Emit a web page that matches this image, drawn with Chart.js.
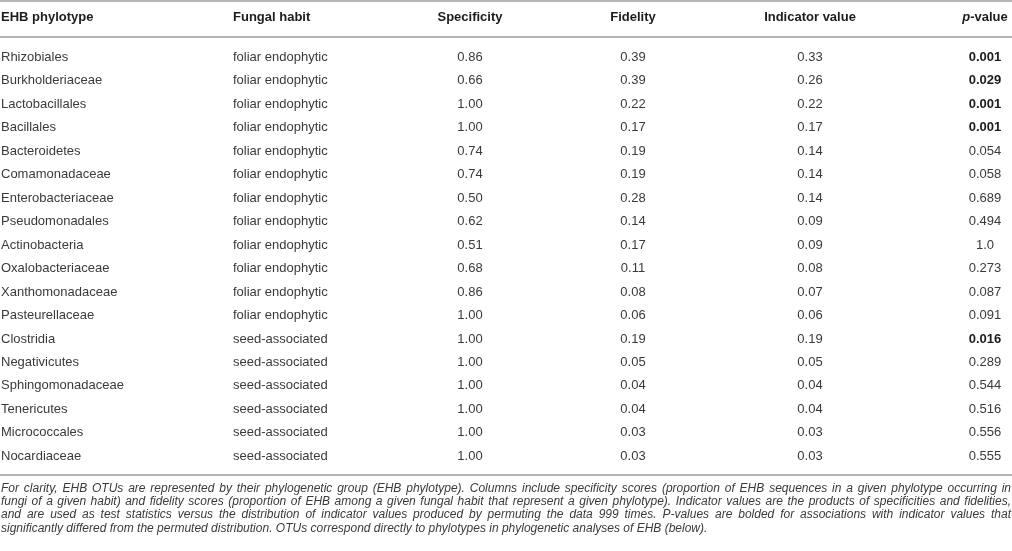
<!DOCTYPE html>
<html lang="en">

<head>
  <meta charset="UTF-8">
  <title>EHB indicator table</title>
  <script src="https://cdn.jsdelivr.net/npm/chart.js"></script>
  <style>
    body { margin: 0; background: #fff; overflow: hidden; }
    .wrap { position: relative; width: 1012px; height: 551px; }
    .nota {
      position: absolute; left: 1px; top: 482px; width: 1010px;
      font-family: "Liberation Sans", Arial, sans-serif; font-style: italic;
      font-size: 12px; line-height: 13.2px; color: #3a3a3a;
    }
    .nota div { white-space: nowrap; }
    .nota .just { text-align: justify; text-align-last: justify; white-space: normal; }
  </style>
</head>

<body>
  <div class="wrap">
    <canvas id="tabela" width="1012" height="551"></canvas>
    <div class="nota">
      <div class="just">For clarity, EHB OTUs are represented by their phylogenetic group (EHB phylotype). Columns include specificity scores (proportion of EHB sequences in a given phylotype occurring in</div>
      <div class="just">fungi of a given habit) and fidelity scores (proportion of EHB among a given fungal habit that represent a given phylotype). Indicator values are the products of specificities and fidelities,</div>
      <div class="just">and are used as test statistics versus the distribution of indicator values produced by permuting the data 999 times. P-values are bolded for associations with indicator values that</div>
      <div>significantly differed from the permuted distribution. OTUs correspond directly to phylotypes in phylogenetic analyses of EHB (below).</div>
    </div>
  </div>

<script>
  // dados da tabela
  const colunas = ['EHB phylotype', 'Fungal habit', 'Specificity', 'Fidelity', 'Indicator value', 'p-value'];
  const filotipos = ['Rhizobiales', 'Burkholderiaceae', 'Lactobacillales', 'Bacillales', 'Bacteroidetes',
    'Comamonadaceae', 'Enterobacteriaceae', 'Pseudomonadales', 'Actinobacteria', 'Oxalobacteriaceae',
    'Xanthomonadaceae', 'Pasteurellaceae', 'Clostridia', 'Negativicutes', 'Sphingomonadaceae',
    'Tenericutes', 'Micrococcales', 'Nocardiaceae'];
  const habitos = ['foliar endophytic', 'foliar endophytic', 'foliar endophytic', 'foliar endophytic',
    'foliar endophytic', 'foliar endophytic', 'foliar endophytic', 'foliar endophytic', 'foliar endophytic',
    'foliar endophytic', 'foliar endophytic', 'foliar endophytic', 'seed-associated', 'seed-associated',
    'seed-associated', 'seed-associated', 'seed-associated', 'seed-associated'];
  const especificidade = [0.86, 0.66, 1.00, 1.00, 0.74, 0.74, 0.50, 0.62, 0.51, 0.68, 0.86, 1.00,
    1.00, 1.00, 1.00, 1.00, 1.00, 1.00];
  const fidelidade = [0.39, 0.39, 0.22, 0.17, 0.19, 0.19, 0.28, 0.14, 0.17, 0.11, 0.08, 0.06,
    0.19, 0.05, 0.04, 0.04, 0.03, 0.03];
  const indicador = [0.33, 0.26, 0.22, 0.17, 0.14, 0.14, 0.14, 0.09, 0.09, 0.08, 0.07, 0.06,
    0.19, 0.05, 0.04, 0.04, 0.03, 0.03];
  const pValores = [0.001, 0.029, 0.001, 0.001, 0.054, 0.058, 0.689, 0.494, 1.0, 0.273, 0.087, 0.091,
    0.016, 0.289, 0.544, 0.516, 0.556, 0.555];

  // layout (posicao das colunas em px, linhas em unidades de linha)
  const colX = [1, 233, 470, 633, 810, 985];
  const colAlign = ['left', 'left', 'center', 'center', 'center', 'center'];
  const linhaCabecalho = -1.68;
  const linhasRegua = [-2.40, -0.85, 17.80];

  const fonte = '"Liberation Sans", Arial, sans-serif';
  const corTexto = '#3a3a3a';
  const corForte = '#1c1c1c';
  const corRegua = '#b4b4b4';

  function fmtP(v) { return v === 1 ? '1.0' : v.toFixed(3); }

  const textos = [
    filotipos,
    habitos,
    especificidade.map(v => v.toFixed(2)),
    fidelidade.map(v => v.toFixed(2)),
    indicador.map(v => v.toFixed(2)),
    pValores.map(fmtP)
  ];
  const negrito = [null, null, null, null, null, pValores.map(v => v < 0.05)];

  const datasets = textos.map((col, c) => ({
    label: colunas[c],
    data: col.map((t, i) => ({ x: colX[c], y: i })),
    texts: col,
    bold: negrito[c],
    align: colAlign[c],
    pointRadius: 0,
    pointHoverRadius: 0
  }));

  const pluginTabela = {
    id: 'pluginTabela',
    afterDatasetsDraw(chart) {
      const ctx = chart.ctx;
      const sx = chart.scales.x;
      const sy = chart.scales.y;
      ctx.save();

      // reguas
      ctx.strokeStyle = corRegua;
      ctx.lineWidth = 2;
      linhasRegua.forEach(r => {
        const py = Math.round(sy.getPixelForValue(r));
        ctx.beginPath();
        ctx.moveTo(sx.left, py);
        ctx.lineTo(sx.right, py);
        ctx.stroke();
      });

      ctx.textBaseline = 'middle';

      // cabecalho
      const hy = sy.getPixelForValue(linhaCabecalho);
      ctx.fillStyle = corForte;
      colunas.forEach((t, c) => {
        const px = sx.getPixelForValue(colX[c]);
        if (t === 'p-value') {
          ctx.font = 'italic bold 13px ' + fonte;
          const w1 = ctx.measureText('p').width;
          ctx.font = 'bold 13px ' + fonte;
          const w2 = ctx.measureText('-value').width;
          const x0 = px - (w1 + w2) / 2;
          ctx.textAlign = 'left';
          ctx.font = 'italic bold 13px ' + fonte;
          ctx.fillText('p', x0, hy);
          ctx.font = 'bold 13px ' + fonte;
          ctx.fillText('-value', x0 + w1, hy);
        } else {
          ctx.font = 'bold 13px ' + fonte;
          ctx.textAlign = colAlign[c];
          ctx.fillText(t, px, hy);
        }
      });

      // celulas
      chart.data.datasets.forEach((ds, di) => {
        const meta = chart.getDatasetMeta(di);
        ctx.textAlign = ds.align;
        meta.data.forEach((pt, i) => {
          const forte = ds.bold && ds.bold[i];
          ctx.font = (forte ? 'bold ' : '') + '13px ' + fonte;
          ctx.fillStyle = forte ? corForte : corTexto;
          ctx.fillText(ds.texts[i], pt.x, pt.y);
        });
      });
      ctx.restore();
    }
  };

  const tabela = new Chart(document.getElementById('tabela'), {
    type: 'scatter',
    data: { datasets: datasets },
    options: {
      responsive: false,
      animation: false,
      events: [],
      layout: { padding: 0 },
      plugins: { legend: { display: false }, tooltip: { enabled: false } },
      scales: {
        x: { type: 'linear', display: false, min: 0, max: 1012 },
        y: { type: 'linear', display: false, min: -2.441, max: 21.035, reverse: true }
      }
    },
    plugins: [pluginTabela]
  });
</script>
</body>

</html>
